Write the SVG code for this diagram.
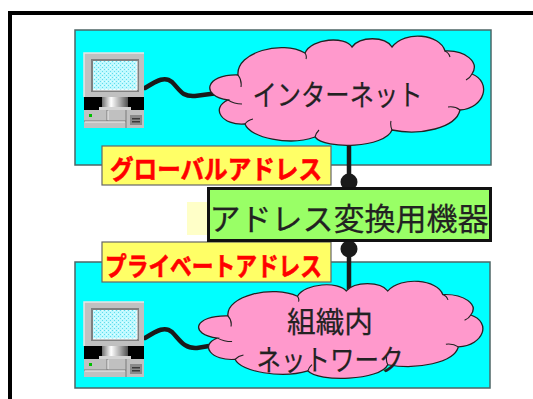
<svg xmlns="http://www.w3.org/2000/svg" width="533" height="399" viewBox="0 0 533 399">
  <style>
    .lan { fill: #00ffff; stroke: #4d6666; stroke-width: 1.5; }
    .cloud { fill: #ff99cc; stroke: #222; stroke-width: 1.3; vector-effect: non-scaling-stroke; }
    .fold { fill: none; stroke: #222; stroke-width: 1.1; vector-effect: non-scaling-stroke; }
    .cable { fill: none; stroke: #1a1a1a; stroke-width: 4.5; stroke-linecap: round; }
    .tag { fill: #ffff66; stroke: #666; stroke-width: 1.2; }
    .tagtext { font-family: "Noto Sans CJK JP", "Noto Sans", sans-serif; font-weight: bold; fill: #ff0000; stroke: #ff0000; stroke-width: 0.6; text-anchor: middle; dominant-baseline: central; }
    .jp { font-family: "Noto Sans CJK JP", "Noto Sans", sans-serif; fill: #222; stroke: #222; stroke-width: 0.25; text-anchor: middle; dominant-baseline: central; }
    .dot { fill: #1a1a1a; }
  </style>
  <defs>
    <pattern id="dither" width="4" height="4" patternUnits="userSpaceOnUse">
      <rect width="4" height="4" fill="#bff9ff"/>
      <rect x="0" y="0" width="1" height="1" fill="#5fdcec"/>
      <rect x="2" y="2" width="1" height="1" fill="#5fdcec"/>
      <rect x="2" y="0" width="1" height="1" fill="#e8ffff"/>
    </pattern>
    <linearGradient id="metal" x1="0" y1="0" x2="1" y2="0">
      <stop offset="0" stop-color="#707070"/>
      <stop offset="0.35" stop-color="#ffffff"/>
      <stop offset="0.7" stop-color="#a8a8a8"/>
      <stop offset="1" stop-color="#505050"/>
    </linearGradient>
    <!-- desktop computer icon, 60 x 75 -->
    <g id="pc">
      <rect x="0" y="0" width="60" height="44" fill="#c0c0c0"/>
      <path d="M0,44 V0 H60" fill="none" stroke="#e6e6e6" stroke-width="1.5"/>
      <rect x="7" y="6" width="48" height="33" fill="#808080"/>
      <rect x="9" y="8" width="44" height="29" fill="url(#dither)"/>
      <path d="M9,37 H53 V8" fill="none" stroke="#ffffff" stroke-width="1"/>
      <rect x="0" y="44" width="60" height="13" fill="#000"/>
      <rect x="18" y="44" width="26" height="10" fill="url(#metal)"/>
      <rect x="15" y="54" width="32" height="3" fill="#d4d4d4"/>
      <rect x="0" y="57" width="60" height="18" fill="#c0c0c0"/>
      <path d="M23,57 V68 M42,57 V75 M0,68 H42" stroke="#7a7a7a" stroke-width="1"/>
      <path d="M24,58 V67 M1,69 H41" stroke="#ececec" stroke-width="1"/>
      <rect x="5" y="61" width="3" height="3" fill="#00c000"/>
      <rect x="46" y="62" width="12" height="10" fill="#8a8a8a"/>
      <rect x="48" y="65" width="8" height="1.5" fill="#3a3a3a"/>
      <rect x="48" y="68" width="8" height="1.5" fill="#3a3a3a"/>
    </g>
    <path id="cloudShape" d="M228,100 C200,96 205,74 238,75 C236,52 282,40 305,53 C312,38 345,36 352,47 C360,36 385,36 392,47 C405,30 440,34 445,51 C465,50 480,62 472,74 C492,82 485,108 460,110 C456,128 420,136 392,130 C385,148 325,150 315,137 C290,146 250,138 245,124 C222,126 210,108 228,100 Z"/>
    <path id="cloudFolds" d="M238,75 q4,5 3,12 M305,53 q2,3 1,6 M445,51 q4,2 5,6 M472,74 q-2,4 -6,6 M460,110 q-5,-4 -12,-3 M392,130 q-2,-5 -1,-9 M315,137 q1,-4 4,-7 M245,124 q3,-4 8,-5 M228,100 q6,4 14,4"/>
  </defs>

  <!-- outer frame (left and top edges only fall inside the page) -->
  <path id="frame" d="M10,420 V13 H560" fill="none" stroke="#000" stroke-width="4"/>

  <!-- network areas -->
  <g id="global-area"><rect class="lan" x="75" y="30" width="416" height="135"/></g>
  <g id="private-area"><rect class="lan" x="75" y="262" width="415" height="126"/></g>

  <!-- connectors -->
  <g id="connectors">
    <path class="cable" d="M145,88 C158,80 165,76 172,82 C180,90 182,97 195,96 L218,93"/>
    <path class="cable" d="M145,338 C158,330 165,326 172,332 C180,340 184,349 197,348 L215,345"/>
    <line x1="349" y1="135" x2="349" y2="292" stroke="#1a1a1a" stroke-width="4.5"/>
  </g>

  <!-- clouds -->
  <g id="internet">
    <use href="#cloudShape" class="cloud"/>
    <use href="#cloudFolds" class="fold"/>
    <text class="jp" x="337.5" y="93" font-size="29" textLength="170" lengthAdjust="spacingAndGlyphs">インターネット</text>
  </g>
  <g id="intranet">
    <g transform="translate(203,283) scale(1.038,0.888) translate(-214,-38)">
      <use href="#cloudShape" class="cloud"/>
      <use href="#cloudFolds" class="fold"/>
    </g>
    <text class="jp" x="330" y="320" font-size="29" textLength="86" lengthAdjust="spacingAndGlyphs">組織内</text>
    <text class="jp" x="330" y="358" font-size="29" textLength="147" lengthAdjust="spacingAndGlyphs">ネットワーク</text>
  </g>

  <!-- computers -->
  <g id="pc-global"><use href="#pc" x="84" y="53"/></g>
  <g id="pc-private"><use href="#pc" x="84" y="302"/></g>

  <!-- address labels -->
  <g id="label-global">
    <rect class="tag" x="102" y="146" width="229" height="39"/>
    <text class="tagtext" x="216" y="167" font-size="26" textLength="212" lengthAdjust="spacingAndGlyphs">グローバルアドレス</text>
  </g>
  <g id="label-private">
    <rect class="tag" x="102" y="242" width="229" height="40"/>
    <text class="tagtext" x="213.5" y="264" font-size="26" textLength="217" lengthAdjust="spacingAndGlyphs">プライベートアドレス</text>
  </g>

  <!-- address translation device -->
  <g id="nat-device">
    <rect x="187" y="202" width="21" height="33" fill="#ffffc8"/>
    <circle class="dot" cx="349" cy="182" r="8.5"/>
    <circle class="dot" cx="349" cy="249" r="8.5"/>
    <rect x="208.5" y="188.5" width="282" height="52" fill="#99ff66" stroke="#111" stroke-width="3"/>
    <text class="jp" x="349" y="216" font-size="31">アドレス変換用機器</text>
  </g>
</svg>
